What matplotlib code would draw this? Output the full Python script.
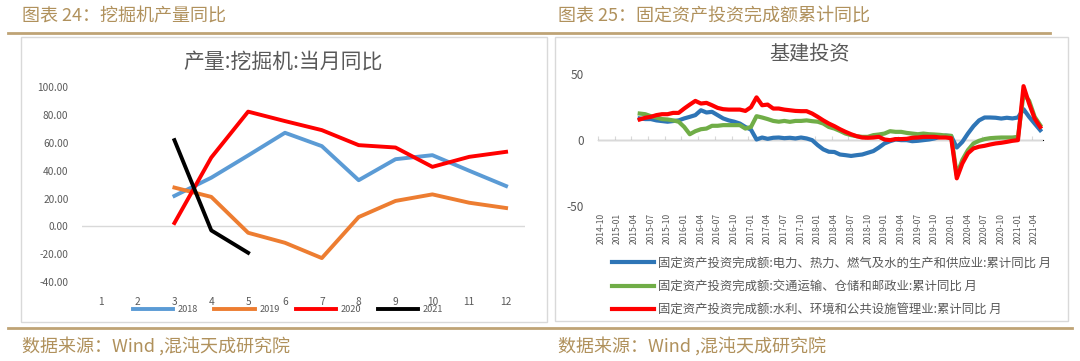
import numpy as np
import pandas as pd
import matplotlib
matplotlib.use("Agg")
import matplotlib.pyplot as plt
from matplotlib.patches import Rectangle
from matplotlib.lines import Line2D

plt.rcParams['font.family'] = ['Noto Sans CJK SC', 'DejaVu Sans']

# ---------------- data: left chart (excavator output YoY) ----------------
months_left = list(range(1, 13))
m_x = [3, 4, 5, 6, 7, 8, 9, 10, 11, 12]
y2018 = [21.9, 35.0, 51.0, 67.3, 57.7, 33.2, 48.3, 51.2, 40.0, 29.0]
y2019 = [27.9, 21.2, -4.6, -11.8, -22.8, 6.7, 18.3, 23.0, 17.0, 13.2]
y2020 = [2.4, 49.5, 82.5, 75.7, 69.2, 58.4, 56.7, 42.8, 50.0, 53.6]
m2021 = [3, 4, 5]
y2021 = [62.0, -2.9, -19.0]
left_series_names = ['2018', '2019', '2020', '2021']

# ---------------- data: right chart (infrastructure FAI cumulative YoY) ----------------
categories = [p.strftime('%Y-%m') for p in pd.period_range('2014-10', '2021-05', freq='M')]
data_start = '2015-05'
power = [16.5, 16, 16, 15, 14.5, 14, 14.5, 15, 16.5, 17.7,
         19, 22.7, 21, 21.5, 19, 16.5, 15, 14, 12.6, 10,
         8, 0.5, 2, 1, 1.8, 2, 1.5, 1.8, 1.3, 2,
         1.3, 0, -3.8, -7, -8.8, -9, -10.9, -11.4, -12, -11.4,
         -10.9, -9.6, -8.3, -5.6, -2.5, -0.8, 0.5, 0, 0, -0.8,
         -0.5, 0, 0.5, 1.3, 2.5, 3.5, 3, -5.6, -1.3, 5,
         10.6, 15, 17.2, 17.2, 17, 16.4, 17, 16.5, 17.2, 23.5,
         17.7, 12.6, 7.6]
transport = [20.2, 19.7, 18.2, 17.2, 16, 15.7, 15, 14, 10, 4.5,
             6.8, 8.3, 8.8, 10.9, 10.9, 11.4, 11.4, 11.4, 11.4, 8.8,
             10, 18.2, 17.2, 16, 14.6, 14, 14.6, 13.9, 14.6, 14.6,
             15, 14.4, 14, 12.6, 10, 8.8, 7, 5, 3.8, 3,
             2.5, 2.5, 3.8, 4.3, 5, 6.8, 6.3, 6.3, 5.5, 5,
             4.5, 5, 4.5, 4.3, 4, 3.5, 3.3, -26.5, -15, -7.6,
             -2.5, -0.5, 0.8, 1.5, 1.8, 2, 2, 2, 2.5, 35,
             30, 17.7, 11.4]
water = [15.7, 17, 17.7, 19, 19.7, 19.7, 20.7, 20.7, 24, 27,
         29.8, 27.8, 28.3, 26.5, 24.5, 23.5, 23.2, 23.2, 23.2, 22.2,
         25, 32.5, 26.5, 27, 24, 24, 23.2, 22.7, 22.2, 22,
         22, 20.2, 17.7, 15, 12.6, 10.6, 8.3, 6.3, 4.5, 3,
         2, 1.8, 2, 2.5, 0.5, 0, 0.8, 0.8, 1, 1.8,
         2, 2.5, 2.5, 2.5, 2, 2, 1.5, -29, -17.7, -10,
         -6.3, -5, -4.3, -3.3, -2.5, -2, -1.3, -0.5, 0, 41,
         27.8, 16.4, 10]
right_series_names = [
    '固定资产投资完成额:电力、热力、燃气及水的生产和供应业:累计同比 月',
    '固定资产投资完成额:交通运输、仓储和邮政业:累计同比 月',
    '固定资产投资完成额:水利、环境和公共设施管理业:累计同比 月',
]

# ---------------- layout helpers ----------------
W, H = 1080, 361
fig = plt.figure(figsize=(W / 100, H / 100), dpi=100)
fig.patch.set_facecolor('white')


def fx(x):
    return x / W


def fy(y):
    return 1 - y / H


def rect(x0, y0, x1, y1):
    return [fx(x0), fy(y1), (x1 - x0) / W, (y1 - y0) / H]


gold = '#B0915C'
gold_line = '#BFA375'
gray_txt = '#595959'
grid_gray = '#D9D9D9'

# header / footer
fig.text(fx(22), fy(16), '图表 24：挖掘机产量同比', fontsize=13, color=gold, ha='left', va='center')
fig.text(fx(558), fy(16), '图表 25：固定资产投资完成额累计同比', fontsize=13, color=gold, ha='left', va='center')
fig.add_artist(Line2D([fx(8), fx(1050)], [fy(33), fy(33)], color=gold_line, lw=2))
fig.add_artist(Line2D([fx(8), fx(1072)], [fy(328), fy(328)], color=gold_line, lw=2))
fig.text(fx(22), fy(346), '数据来源：Wind ,混沌天成研究院', fontsize=13, color=gold, ha='left', va='center')
fig.text(fx(558), fy(346), '数据来源：Wind ,混沌天成研究院', fontsize=13, color=gold, ha='left', va='center')

# panel boxes
for (x0, y0, x1, y1) in [(21, 37, 547, 322), (555, 37, 1068, 321)]:
    fig.add_artist(Rectangle((fx(x0), fy(y1)), (x1 - x0) / W, (y1 - y0) / H,
                             transform=fig.transFigure, facecolor='white',
                             edgecolor=grid_gray, lw=1, zorder=0))

# ---------------- left chart ----------------
ax1 = fig.add_axes(rect(82.3, 87.3, 524.5, 282))
ax1.set_facecolor('none')
colors_left = ['#5B9BD5', '#ED7D31', '#FF0000', '#000000']
ax1.axhline(0, color=grid_gray, lw=1, zorder=1)
ax1.plot(m_x, y2018, color=colors_left[0], lw=2.8, label=left_series_names[0], zorder=3)
ax1.plot(m_x, y2019, color=colors_left[1], lw=2.8, label=left_series_names[1], zorder=3)
ax1.plot(m_x, y2020, color=colors_left[2], lw=2.8, label=left_series_names[2], zorder=3)
ax1.plot(m2021, y2021, color=colors_left[3], lw=2.8, label=left_series_names[3], zorder=3)
ax1.set_xlim(0.5, 12.5)
ax1.set_ylim(-40, 100)
ax1.set_xticks(months_left)
ax1.set_xticklabels([str(m) for m in months_left])
yt = np.arange(-40, 101, 20)
ax1.set_yticks(yt)
ax1.set_yticklabels(['{:.2f}'.format(v) for v in yt])
ax1.tick_params(axis='both', length=0, labelsize=7.3, labelcolor=gray_txt)
ax1.tick_params(axis='y', pad=10)
ax1.tick_params(axis='x', pad=11)
for s in ax1.spines.values():
    s.set_visible(False)
fig.text(fx(283), fy(62), '产量:挖掘机:当月同比', fontsize=15, color=gray_txt, ha='center', va='center')
ax1.legend(loc='center', bbox_to_anchor=(fx(288), fy(310)), bbox_transform=fig.transFigure,
           ncol=4, frameon=False, fontsize=6.6, handlelength=4.4, handletextpad=0.5,
           columnspacing=1.8, labelcolor=gray_txt)

# ---------------- right chart ----------------
ax2 = fig.add_axes(rect(598, 74.3, 1043, 206))
ax2.set_facecolor('none')
start = categories.index(data_start)
xr = np.arange(start, start + len(power))
ax2.axhline(0, color=grid_gray, lw=1, zorder=1)
ax2.plot(xr, power, color='#2E75B6', lw=3, label=right_series_names[0], zorder=3)
ax2.plot(xr, transport, color='#70AD47', lw=3, label=right_series_names[1], zorder=4)
ax2.plot(xr, water, color='#FF0000', lw=3, label=right_series_names[2], zorder=5)
ax2.set_xlim(-0.5, len(categories) - 0.5)
ax2.set_ylim(-50, 50)
tick_pos = np.arange(0, len(categories), 3)
ax2.set_xticks(tick_pos)
ax2.set_xticklabels([categories[i] for i in tick_pos], rotation=90)
ax2.set_yticks([-50, 0, 50])
ax2.set_yticklabels(['-50', '0', '50'])
ax2.tick_params(axis='x', length=0, labelsize=6.1, labelcolor=gray_txt, pad=5)
ax2.tick_params(axis='y', length=0, labelsize=8.5, labelcolor=gray_txt, pad=10)
for s in ax2.spines.values():
    s.set_visible(False)
sec = ax2.secondary_xaxis(0.5)
sec.set_xticks(np.arange(-0.5, len(categories), 3))
sec.tick_params(axis='x', length=3, color=grid_gray, labelbottom=False, labeltop=False)
sec.spines['bottom'].set_visible(False)
fig.text(fx(810), fy(55), '基建投资', fontsize=14.5, color=gray_txt, ha='center', va='center')
ax2.legend(loc='upper left', bbox_to_anchor=(fx(603), fy(248)), bbox_transform=fig.transFigure,
           ncol=1, frameon=False, fontsize=8.9, handlelength=3.4, handletextpad=0.35,
           labelspacing=0.85, labelcolor=gray_txt, borderpad=0.2)

fig.savefig('out.png', dpi=100, facecolor='white')
